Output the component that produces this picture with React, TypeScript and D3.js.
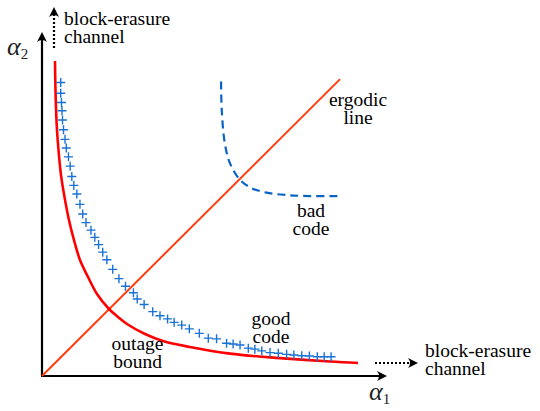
import React from "react";
import * as d3 from "d3";

// data units: both axes 0..100
const goodCodeX = [5.42, 5.42, 5.65, 5.8, 5.94, 6.23, 6.67, 7.04, 7.68, 8.17, 8.64, 9.22, 10.1, 11.0, 11.8, 12.75, 14.2, 15.3, 16.4, 17.6, 18.8, 20.5, 22.3, 24.2, 26.5, 27.6, 29.6, 32.1, 34.2, 36.4, 38.3, 40.5, 42.7, 45.6, 48.2, 50.6, 53.5, 55.4, 57.4, 59.8, 61.7, 63.7, 66.1, 68.5, 70.9, 73.0, 75.3, 77.5, 79.8, 81.8, 83.8];
const goodCodeY = [85.3, 82.2, 79.5, 77.1, 74.4, 71.6, 68.8, 66.3, 63.7, 61.0, 58.0, 55.4, 52.9, 49.9, 47.1, 44.6, 42.4, 40.3, 38.2, 36.0, 33.8, 31.0, 28.3, 26.1, 24.2, 22.4, 20.8, 18.7, 17.5, 16.6, 15.6, 14.8, 13.7, 12.4, 11.0, 10.8, 9.5, 9.3, 9.0, 8.1, 7.8, 7.3, 6.8, 6.6, 6.3, 6.1, 5.9, 5.8, 5.6, 5.6, 5.6];

const outageX = [3.77, 3.91, 4.26, 4.78, 5.51, 6.67, 7.83, 9.28, 11.01, 13.33, 15.94, 19.42, 22.03, 24.64, 29.86, 35.07, 42.9, 54.5, 69.0, 83.5, 91.6];
const outageY = [91.6, 83.1, 73.0, 65.7, 58.4, 51.2, 45.3, 39.5, 33.72, 28.78, 23.84, 19.48, 17.15, 15.12, 12.21, 10.17, 8.43, 6.5, 5.2, 4.2, 3.8];

const badCodeX = [51.9, 52.1, 53.0, 54.5, 57.4, 60.8, 65.1, 70.9, 77.7, 85.9];
const badCodeY = [85.6, 77.3, 67.6, 61.8, 57.0, 54.6, 53.3, 52.6, 52.3, 52.3];

const ergodicX = [0, 86.4];
const ergodicY = [0, 86.3];

const W = 540;
const H = 411;

const x = d3.scaleLinear().domain([0, 100]).range([42, 387]);
const y = d3.scaleLinear().domain([0, 100]).range([376, 32]);

const toPts = (xs: number[], ys: number[]) => xs.map((v, i) => [v, ys[i]] as [number, number]);

const smooth = d3
  .line<[number, number]>()
  .x((d) => x(d[0]))
  .y((d) => y(d[1]))
  .curve(d3.curveCatmullRom.alpha(0.5));

const straight = d3
  .line<[number, number]>()
  .x((d) => x(d[0]))
  .y((d) => y(d[1]));

const FONT = '"Liberation Serif"';
const TXT = 19.5;

function ArrowHead({ tx, ty, angle }: { tx: number; ty: number; angle: number }) {
  return (
    <path
      d="M0,0 L-10,-5 Q-6,0 -10,5 Z"
      fill="#000"
      transform={`translate(${tx},${ty}) rotate(${angle})`}
    />
  );
}

function Label({ x: lx, y: ly, lines, anchor = "start" }: { x: number; y: number; lines: string[]; anchor?: string }) {
  return (
    <text x={lx} y={ly} textAnchor={anchor} style={{ fontFamily: FONT, fontSize: TXT }} fill="#000">
      {lines.map((l, i) => (
        <tspan key={i} x={lx} dy={i === 0 ? 0 : 18}>
          {l}
        </tspan>
      ))}
    </text>
  );
}

export default function App() {
  const blue = "#1a72d6";
  return (
    <svg width={W} height={H} style={{ position: "absolute", left: 0, top: 0, background: "#fff" }}>
      <rect width={W} height={H} fill="#fff" />
      {/* axes */}
      <line x1={x(0)} y1={y(0)} x2={x(0)} y2={y(100) + 6} stroke="#000" strokeWidth={2.2} />
      <ArrowHead tx={x(0)} ty={y(100)} angle={-90} />
      <line x1={x(0) - 1} y1={y(0)} x2={x(100) - 6} y2={y(0)} stroke="#000" strokeWidth={2.2} />
      <ArrowHead tx={x(100)} ty={y(0)} angle={0} />

      {/* dotted arrows */}
      <line x1={54} y1={48} x2={54} y2={14} stroke="#000" strokeWidth={2.2} strokeDasharray="2,2" />
      <ArrowHead tx={54} ty={7} angle={-90} />
      <line x1={375} y1={363} x2={410} y2={363} stroke="#000" strokeWidth={2.2} strokeDasharray="2,2" />
      <ArrowHead tx={418} ty={363} angle={0} />

      {/* ergodic line */}
      <path d={straight(toPts(ergodicX, ergodicY)) || ""} stroke="#ff3d0d" strokeWidth={2} fill="none" />

      {/* outage bound */}
      <path d={smooth(toPts(outageX, outageY)) || ""} stroke="#ff0000" strokeWidth={2.6} fill="none" />

      {/* bad code */}
      <path
        d={smooth(toPts(badCodeX, badCodeY)) || ""}
        stroke="#0a64c8"
        strokeWidth={2.2}
        fill="none"
        strokeDasharray="8,5"
      />

      {/* good code crosses */}
      {goodCodeX.map((gx, i) => {
        const cx = x(gx);
        const cy = y(goodCodeY[i]);
        return (
          <path
            key={i}
            d={`M${cx - 4.5},${cy}H${cx + 4.5}M${cx},${cy - 4.5}V${cy + 4.5}`}
            stroke={blue}
            strokeWidth={1.4}
          />
        );
      })}

      {/* labels */}
      <Label x={64} y={25} lines={["block-erasure", "channel"]} />
      <Label x={425} y={357} lines={["block-erasure", "channel"]} />
      <Label x={358} y={106} anchor="middle" lines={["ergodic", "line"]} />
      <Label x={311} y={217} anchor="middle" lines={["bad", "code"]} />
      <Label x={271} y={325} anchor="middle" lines={["good", "code"]} />
      <Label x={137.5} y={350} anchor="middle" lines={["outage", "bound"]} />

      <text x={7} y={55} fill="#222" style={{ fontFamily: FONT, fontSize: 26, fontStyle: "italic" }}>
        α<tspan dy={4} style={{ fontSize: 15, fontStyle: "normal" }}>2</tspan>
      </text>
      <text x={369} y={400} fill="#222" style={{ fontFamily: FONT, fontSize: 26, fontStyle: "italic" }}>
        α<tspan dy={4} style={{ fontSize: 15, fontStyle: "normal" }}>1</tspan>
      </text>
    </svg>
  );
}
